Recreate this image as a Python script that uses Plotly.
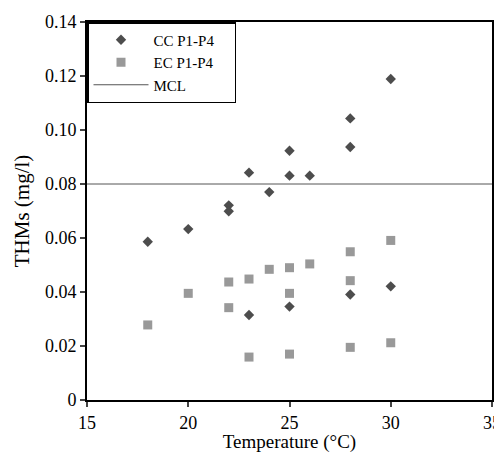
import plotly.graph_objects as go

cc_temp = [18, 20, 22, 22, 23, 24, 25, 25, 26, 28, 28, 30, 23, 25, 28, 30]
cc_thm = [0.0586, 0.0633, 0.0721, 0.0699, 0.0842, 0.0770, 0.0923, 0.0831, 0.0831,
          0.1043, 0.0937, 0.1189, 0.0315, 0.0346, 0.0391, 0.0421]
ec_temp = [18, 20, 22, 22, 23, 24, 25, 26, 28, 30, 28, 25, 23, 25, 28, 30]
ec_thm = [0.0278, 0.0395, 0.0437, 0.0342, 0.0448, 0.0484, 0.0490, 0.0504, 0.0549,
          0.0591, 0.0442, 0.0395, 0.0159, 0.0170, 0.0195, 0.0212]
mcl_x = [15, 35]
mcl_y = [0.08, 0.08]
pad = "\u00a0" * 4

font = "Liberation Serif"

fig = go.Figure()
fig.add_trace(go.Scatter(x=cc_temp, y=cc_thm, mode="markers", name="CC P1-P4" + pad,
                         marker=dict(symbol="diamond", size=8, color="#4d4d4d")))
fig.add_trace(go.Scatter(x=ec_temp, y=ec_thm, mode="markers", name="EC P1-P4",
                         marker=dict(symbol="square", size=9, color="#999999")))
fig.add_trace(go.Scatter(x=mcl_x, y=mcl_y, mode="lines", name="MCL",
                         line=dict(color="#555555", width=1)))

# the page body has an 8px margin, so the figure is sized to fit the window
fig.update_layout(
    width=494, height=445,
    margin=dict(l=79, r=10, t=14, b=53, autoexpand=False),
    paper_bgcolor="white", plot_bgcolor="white",
    font=dict(family=font, size=18, color="black"),
    showlegend=True,
    legend=dict(x=0, y=1, xanchor="left", yanchor="top", bgcolor="white",
                bordercolor="black", borderwidth=1.5, itemwidth=55,
                font=dict(family=font, size=15), tracegroupgap=0),
    xaxis=dict(range=[15, 35], tickvals=[15, 20, 25, 30, 35], ticks="outside",
               ticklen=5, tickwidth=1.5, linecolor="black", linewidth=2, mirror=True,
               showgrid=False, zeroline=False, automargin=False,
               tickfont=dict(family=font, size=18),
               title=dict(text="Temperature (°C)", font=dict(family=font, size=19), standoff=7)),
    yaxis=dict(range=[0, 0.14], tickvals=[0, 0.02, 0.04, 0.06, 0.08, 0.10, 0.12, 0.14],
               ticktext=["0", "0.02", "0.04", "0.06", "0.08", "0.10", "0.12", "0.14"],
               ticks="outside", ticklen=5, tickwidth=1.5, linecolor="black", linewidth=2,
               mirror=True, showgrid=False, zeroline=False, automargin=False,
               tickfont=dict(family=font, size=18),
               title=dict(text="THMs (mg/l)", font=dict(family=font, size=21), standoff=10)),
)

fig.write_html("out.html")
